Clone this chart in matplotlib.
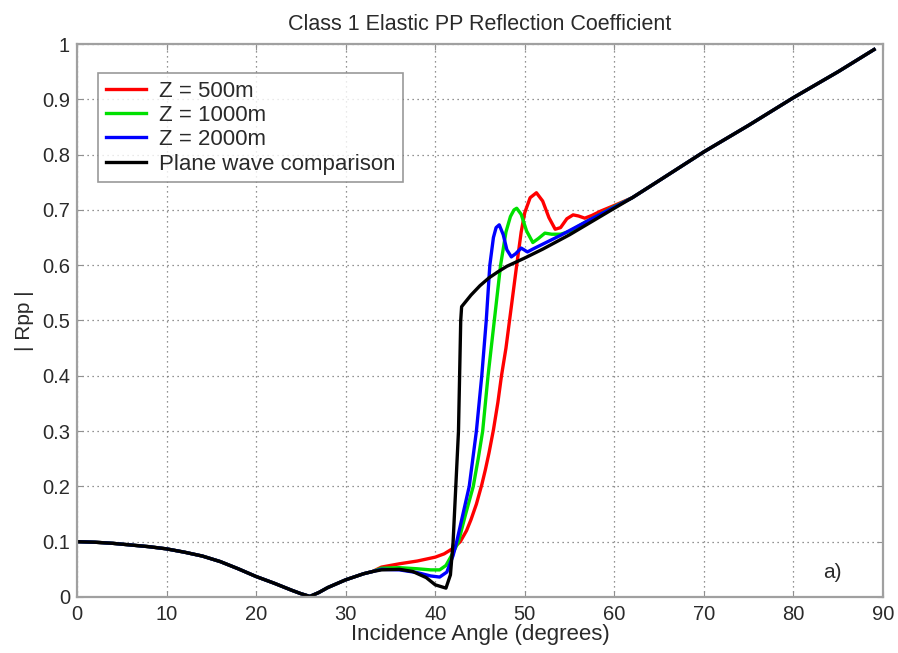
import matplotlib
matplotlib.use("Agg")
import matplotlib.pyplot as plt

plt.rcParams['font.family'] = ['Liberation Sans', 'DejaVu Sans']

# Shared portion (all curves coincide) 0-33 degrees
shared_angle = [0, 2, 4, 6, 8, 10, 12, 14, 16, 18, 20, 22, 24, 25, 26, 27, 28, 30, 32, 33]
shared_rpp = [0.100, 0.099, 0.097, 0.094, 0.091, 0.087, 0.081, 0.074, 0.064, 0.051,
              0.037, 0.025, 0.012, 0.006, 0.001, 0.008, 0.017, 0.031, 0.042, 0.046]

# Tail portion (all curves coincide) 62-89 degrees
tail_angle = [62, 65, 70, 75, 80, 85, 89]
tail_rpp = [0.722, 0.753, 0.805, 0.853, 0.903, 0.950, 0.990]

# Z = 500 m
z500_angle = [34, 36, 38, 40, 41, 42, 42.8, 43.5, 44.0, 44.6, 45.2, 45.6, 46.0, 46.5, 47.0,
              47.4, 47.9, 48.3, 48.7, 49.1, 49.6, 50.0, 50.6, 51.3, 52.0, 52.7, 53.4, 54.0, 54.7,
              55.4, 56.0, 56.7, 57.5, 58.5, 60]
z500_rpp = [0.054, 0.060, 0.065, 0.072, 0.078, 0.088, 0.100, 0.120, 0.140, 0.168, 0.203, 0.230,
            0.260, 0.302, 0.352, 0.400, 0.450, 0.500, 0.550, 0.600, 0.660, 0.695, 0.722, 0.731,
            0.716, 0.686, 0.665, 0.668, 0.684, 0.691, 0.689, 0.685, 0.690, 0.698, 0.708]

# Z = 1000 m
z1000_angle = [34, 36, 38, 39.5, 40.5, 41.2, 42, 42.6, 43.4, 44.25, 44.8, 45.3, 45.9, 46.6,
               47.3, 47.9, 48.4, 48.8, 49.1, 49.6, 50.2, 50.9, 51.5, 52.25, 53.0, 54, 55, 57, 60]
z1000_rpp = [0.052, 0.053, 0.051, 0.049, 0.049, 0.057, 0.080, 0.100, 0.150, 0.200, 0.250, 0.300,
             0.400, 0.500, 0.600, 0.660, 0.688, 0.700, 0.703, 0.692, 0.662, 0.641, 0.648, 0.658,
             0.656, 0.656, 0.661, 0.680, 0.706]

# Z = 2000 m
z2000_angle = [34, 36, 38, 39.5, 40.5, 41.3, 42, 42.4, 43.1, 43.8, 44.6, 45.2, 45.7, 46.1,
               46.5, 46.8, 47.15, 47.6, 48.0, 48.5, 49.0, 49.6, 50.3, 51, 52, 54, 57, 60]
z2000_rpp = [0.050, 0.049, 0.044, 0.038, 0.036, 0.045, 0.075, 0.100, 0.150, 0.200, 0.300, 0.400,
             0.500, 0.600, 0.650, 0.668, 0.673, 0.655, 0.628, 0.615, 0.621, 0.631, 0.624, 0.630,
             0.638, 0.654, 0.680, 0.705]

# Plane wave comparison
plane_angle = [34, 36, 37.5, 39, 40, 41.2, 41.7, 42.0, 42.3, 42.6, 42.85, 42.95, 44, 45, 46, 47,
               48, 50, 52, 55, 60]
plane_rpp = [0.049, 0.050, 0.046, 0.035, 0.022, 0.016, 0.040, 0.100, 0.200, 0.300, 0.500, 0.525,
             0.546, 0.563, 0.577, 0.588, 0.598, 0.613, 0.629, 0.655, 0.703]

labels = ['Z = 500m', 'Z = 1000m', 'Z = 2000m', 'Plane wave comparison']
colors = ['#ff0000', '#00e000', '#0000ff', '#000000']
x_ticks = [0, 10, 20, 30, 40, 50, 60, 70, 80, 90]
y_ticks = [0, 0.1, 0.2, 0.3, 0.4, 0.5, 0.6, 0.7, 0.8, 0.9, 1.0]
y_ticklabels = ['0', '0.1', '0.2', '0.3', '0.4', '0.5', '0.6', '0.7', '0.8', '0.9', '1']

fig = plt.figure(figsize=(8.98, 6.53), dpi=100)
ax = fig.add_axes([0.0857, 0.0858, 0.8976, 0.8468])

series = [(z500_angle, z500_rpp), (z1000_angle, z1000_rpp),
          (z2000_angle, z2000_rpp), (plane_angle, plane_rpp)]
for (a, r), lab, c in zip(series, labels, colors):
    xs = shared_angle + a + tail_angle
    ys = shared_rpp + r + tail_rpp
    ax.plot(xs, ys, color=c, lw=2.4, label=lab, solid_joinstyle='round')

ax.set_xlim(0, 90)
ax.set_ylim(0, 1)
ax.set_xticks(x_ticks)
ax.set_yticks(y_ticks)
ax.set_yticklabels(y_ticklabels)
ax.tick_params(direction='in', length=4, width=0.8, colors='#909090',
               labelcolor='#2a2a2a', labelsize=14.5, top=True, right=True)
ax.tick_params(axis='x', pad=6)
ax.tick_params(axis='y', pad=5)
ax.grid(True, linestyle=(0, (1, 3)), color='#707070', linewidth=0.9)
for s in ax.spines.values():
    s.set_color('#a0a0a0')
    s.set_linewidth(1.6)

ax.set_title('Class 1 Elastic PP Reflection Coefficient', fontsize=15.5, color='#2a2a2a', pad=10)
ax.set_xlabel('Incidence Angle (degrees)', fontsize=16, color='#2a2a2a', labelpad=0)
ax.set_ylabel('| Rpp |', fontsize=15, color='#2a2a2a', labelpad=6)
ax.text(84.3, 0.045, 'a)', fontsize=15, color='#2a2a2a', ha='center', va='center')

leg = ax.legend(loc='upper left', bbox_to_anchor=(0.026, 0.948), fontsize=16,
                frameon=True, fancybox=False, edgecolor='#808080', borderpad=0.35,
                labelspacing=0.15, handlelength=1.8, handletextpad=0.6, borderaxespad=0)
leg.get_frame().set_linewidth(1.2)
for t in leg.get_texts():
    t.set_color('#2a2a2a')

fig.savefig('out.png', dpi=100)
